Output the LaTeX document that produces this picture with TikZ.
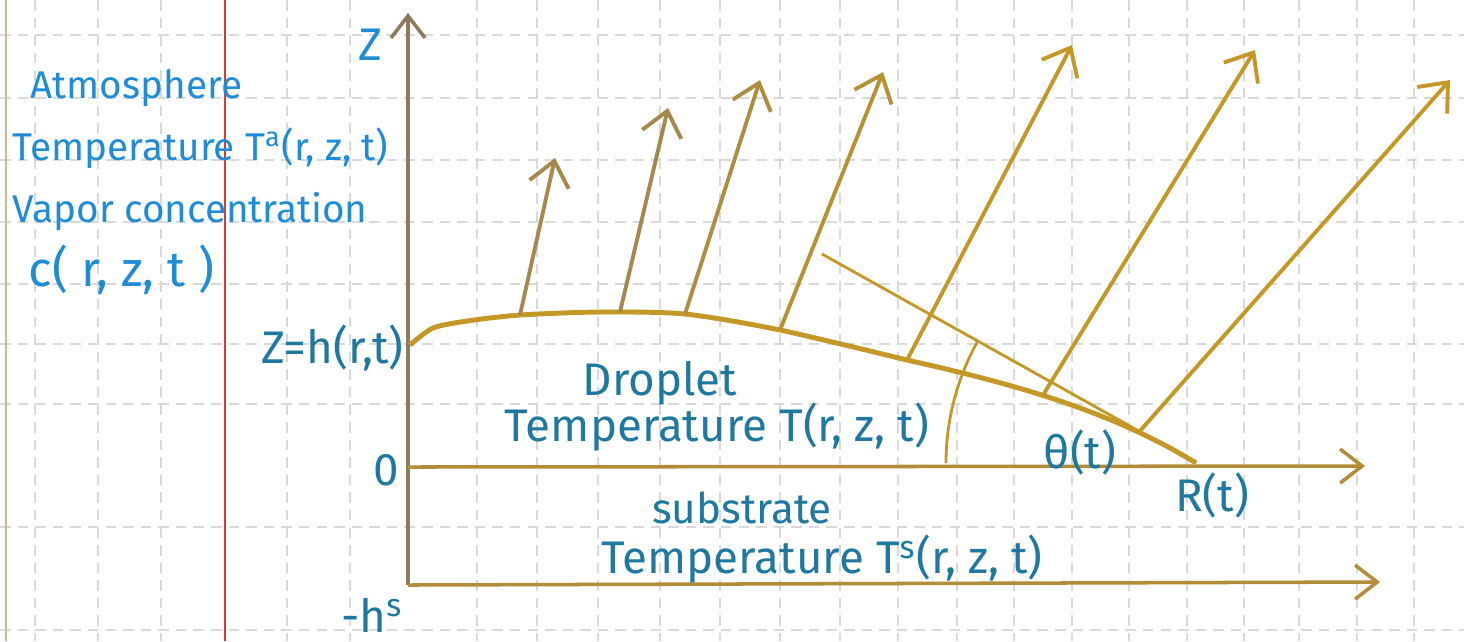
\documentclass[tikz,border=0pt]{standalone}
\usepackage{fontspec}
\setmainfont{Fira Sans}
\usetikzlibrary{arrows.meta}
\definecolor{inkblue}{RGB}{30,140,215}
\definecolor{inkteal}{RGB}{30,120,160}
\definecolor{axisgray}{RGB}{140,122,92}
\definecolor{axisgold}{RGB}{178,140,55}
\definecolor{gold}{RGB}{195,152,38}
\definecolor{goldbrown}{RGB}{165,136,75}
\definecolor{margred}{RGB}{215,60,50}

\begin{document}
\begin{tikzpicture}[
        x=0.01cm, y=-0.01cm,
        gridline/.style={gray!30, line width=0.4pt, dash pattern=on 3pt off 2pt},
        axisline/.style={line width=1pt, -{Straight Barb[length=2.2mm, width=3.4mm]}},
        droplet/.style={gold, line width=1.4pt},
        flux/.style={line width=1.1pt, -{Straight Barb[length=2.4mm, width=4mm]}},
        tangentline/.style={gold, line width=0.8pt},
        leftlabel/.style={inkblue, font=\fontsize{11}{13}\selectfont, anchor=west, inner sep=0pt},
        midlabel/.style={inkteal, font=\fontsize{13}{15}\selectfont, inner sep=0pt}
    ]
        % Paper
        \path[fill=white, use as bounding box] (0,0) rectangle (1464,641);
        \foreach \gx in {35,98,161,287,350,477,537,598,660,720,780,840,898,957,1014,1072,1129,1187,1244,1299,1357,1414}
            \draw[gridline] (\gx,0) -- (\gx,641);
        \foreach \gy in {35,98,160,222,284,344,404,527,630}
            \draw[gridline] (0,\gy) -- (1464,\gy);
        \draw[margred, line width=0.7pt] (225,0) -- (225,641);
        \draw[goldbrown!60, line width=0.5pt] (6,0) -- (6,641);

        % Coordinates
        \coordinate (bot) at (408,585);
        \coordinate (ztop) at (408,13);
        \coordinate (orig) at (408,467);
        \coordinate (rend) at (1365,466);
        \coordinate (send) at (1380,582);
        \coordinate (contact) at (1196,463);
        \coordinate (tanend) at (822,254);

        % Axes
        \draw[axisline, axisgray] (bot) -- (ztop);
        \draw[axisline, axisgold] (orig) -- (rend);
        \draw[axisline, axisgold] (bot) -- (send);

        % Droplet surface
        \draw[droplet] plot[smooth, tension=0.45] coordinates {(410,345) (433,328) (467,321) (520,315) (600,312) (685,314) (780,330) (907,360)}
            .. controls (1010,383) and (1110,410) .. (contact);

        % Contact angle
        \draw[tangentline] (contact) -- (tanend);
        \draw[tangentline] (contact) ++(-250,0) arc[start angle=180, end angle=209.2, radius=250];

        % Surface points and arrow tips
        \coordinate (s1) at (520,315);  \coordinate (n1) at (555,158);
        \coordinate (s2) at (620,312);  \coordinate (n2) at (668,108);
        \coordinate (s3) at (685,314);  \coordinate (n3) at (760,80);
        \coordinate (s4) at (780,330);  \coordinate (n4) at (883,72);
        \coordinate (s5) at (907,360);  \coordinate (n5) at (1072,45);
        \coordinate (s6) at (1043,395); \coordinate (n6) at (1255,50);
        \coordinate (s7) at (1139,432); \coordinate (n7) at (1450,80);

        % Arrows
        \draw[flux, goldbrown] (s1) -- (n1);
        \draw[flux, goldbrown] (s2) -- (n2);
        \draw[flux, goldbrown!70!gold] (s3) -- (n3);
        \draw[flux, goldbrown!40!gold] (s4) -- (n4);
        \draw[flux, gold] (s5) -- (n5);
        \draw[flux, gold] (s6) -- (n6);
        \draw[flux, gold] (s7) -- (n7);

        % Labels
        \node[inkblue, font=\fontsize{13}{15}\selectfont] (zlab) at (370,45) {Z};
        \node[leftlabel] (atm) at (30,88) {Atmosphere};
        \node[leftlabel] (tatm) at (12,148) {Temperature T\textsuperscript{a}(r, z, t)};
        \node[leftlabel] (vap) at (12,212) {Vapor concentration};
        \node[leftlabel, font=\fontsize{14}{16}\selectfont] (conc) at (28,270) {c( r, z, t )};
        \node[midlabel, anchor=east] (hlab) at (404,348) {Z=h(r,t)};
        \node[midlabel] (zero) at (386,470) {0};
        \node[midlabel] (hs) at (372,615) {-h\textsuperscript{s}};
        \node[midlabel] (drop) at (660,383) {Droplet};
        \node[midlabel] (tdrop) at (717,427) {Temperature T(r, z, t)};
        \node[midlabel, font=\fontsize{12}{14}\selectfont] (subs) at (742,508) {substrate};
        \node[midlabel] (tsubs) at (822,559) {Temperature T\textsuperscript{s}(r, z, t)};
        \node[midlabel] (theta) at (1080,452) {θ(t)};
        \node[midlabel] (rlab) at (1212,495) {R(t)};
    \end{tikzpicture}
\end{document}
